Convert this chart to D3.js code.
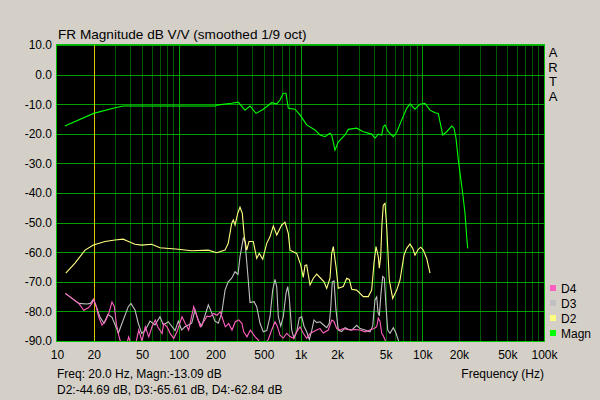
<!DOCTYPE html>
<html><head><meta charset="utf-8">
<script src="https://cdn.jsdelivr.net/npm/d3@7"></script>
<style>
html,body{margin:0;padding:0;background:#d4d0c8;}
svg{display:block;font-family:Arial,"Liberation Sans",sans-serif;font-size:12px;}
</style></head>
<body>
<svg id="c" width="600" height="400"></svg>
<script>
// ---- data ----
const yTicks = [10, 0, -10, -20, -30, -40, -50, -60, -70, -80, -90];
const xTickValues = [10, 20, 50, 100, 200, 500, 1000, 2000, 5000, 10000, 20000, 50000, 100000];
const xTickLabels = ["10", "20", "50", "100", "200", "500", "1k", "2k", "5k", "10k", "20k", "50k", "100k"];
const legendNames = ["D4", "D3", "D2", "Magn"];
const cursorFreq = 20;

const magnFreq = [11.6, 20, 30, 35, 200, 205, 272, 308, 350, 385, 431, 495, 580, 638, 679, 722, 760, 794, 901, 991, 1124, 1316, 1446, 1589, 1747, 1804, 1920, 2044, 2321, 2470, 2894, 3280, 3843, 4091, 4355, 4645, 4787, 4943, 5261, 5784, 6168, 6780, 7453, 7931, 8718, 9583, 10535, 11580, 12730, 13545, 14723, 15880, 17456, 18230, 18933, 19784, 20428, 21485, 22443, 23178, 23620];
const magnDb = [-17.4, -13.1, -11.2, -10.6, -10.6, -10.3, -9.7, -9.3, -12.0, -10.6, -13.1, -11.7, -9.5, -9.9, -8.6, -6.3, -6.3, -11.4, -11.7, -13.6, -17.0, -18.7, -20.4, -21.0, -19.8, -20.4, -25.5, -22.7, -20.4, -18.5, -18.1, -19.3, -20.1, -21.5, -20.1, -20.4, -17.6, -17.0, -19.3, -21.0, -19.5, -15.3, -11.4, -9.9, -11.7, -10.0, -9.7, -12.0, -12.9, -13.1, -20.4, -19.3, -17.4, -18.1, -21.5, -28.9, -33.3, -40.1, -46.9, -54.8, -58.7];

const d2Freq = [11.8, 14.05, 17, 19.9, 24.8, 29.9, 35, 37.4, 43.7, 49.6, 60, 70.1, 99.2, 127.8, 174.9, 205, 240, 255, 272, 280.6, 290, 305, 318.5, 332.7, 345.5, 361.5, 377.6, 409.6, 436.8, 458.8, 489.3, 527.8, 561.6, 597.7, 638, 700.8, 745.8, 794, 820, 930.6, 1003.7, 1054, 1089, 1124, 1197, 1274, 1358, 1465, 1560, 1641, 1747, 1804, 1860, 1957, 2044, 2246, 2396, 2516, 2634, 2894, 3280, 3606, 3843, 4015, 4170, 4355, 4438, 4557, 4670, 4787, 4943, 5105, 5362, 5718, 6168, 6565, 7083, 7453, 7931, 8349, 8718, 9281, 9712, 10200, 10880, 11580];
const d2Db = [-67.1, -63.7, -59.3, -57.6, -56.4, -55.9, -55.6, -56.1, -57.3, -57.6, -57.3, -58.5, -59.0, -59.5, -59.3, -60.2, -59.3, -57.0, -50.3, -49.1, -50.8, -46.9, -44.8, -46.9, -54.8, -59.3, -56.4, -56.4, -62.1, -60.4, -62.4, -57.0, -54.8, -51.1, -54.2, -50.8, -49.9, -53.6, -59.3, -60.4, -64.3, -68.5, -64.5, -64.3, -71.1, -68.8, -67.4, -68.8, -70.0, -72.2, -68.8, -60.4, -58.1, -64.9, -72.2, -71.6, -68.8, -69.2, -72.5, -72.8, -75.0, -75.0, -72.8, -63.7, -58.1, -61.5, -65.4, -61.5, -50.3, -44.1, -43.5, -51.4, -69.4, -75.6, -72.8, -69.4, -61.0, -58.7, -57.2, -58.7, -61.0, -59.0, -58.3, -59.3, -62.1, -67.1];

const d3Freq = [11.7, 15.1, 17.6, 18.8, 19.8, 20.6, 22.6, 24.3, 26.2, 28.3, 30.7, 31.9, 35.0, 38.5, 40.5, 43.7, 46.5, 49.6, 52.8, 58.1, 63.8, 70.1, 74.7, 82.1, 93.2, 99.2, 105.7, 112.5, 127.8, 136.0, 144.7, 154.4, 174.9, 186.5, 198.6, 211.2, 225.3, 240, 255, 272, 290, 306.7, 318.5, 338.9, 350, 368.4, 385, 415, 437, 465, 495, 528, 562, 591, 617.5, 638, 657, 688, 722, 760, 785, 809, 847, 884, 931, 977, 1023, 1069, 1124, 1181, 1236, 1291, 1358, 1446, 1539, 1641, 1724, 1771, 1825, 1884, 1957, 2044, 2180, 2321, 2470, 2634, 2894, 3082, 3387, 3723, 3918, 4091, 4226, 4331, 4438, 4583, 4733, 4879, 5039, 5203, 5434, 5784, 6088, 6359, 6565];
const d3Db = [-73.9, -77.3, -77.5, -77.3, -76.0, -77.3, -82.0, -84.0, -81.0, -82.0, -85.5, -87.4, -82.9, -78.4, -77.3, -79.5, -84.0, -87.4, -86.5, -83.3, -84.6, -81.8, -84.6, -83.5, -86.5, -83.3, -86.3, -85.2, -84.0, -79.5, -83.0, -85.0, -77.8, -80.5, -83.3, -84.0, -80.7, -72.8, -70.0, -68.8, -66.6, -67.5, -61.5, -55.3, -56.4, -67.1, -77.0, -76.7, -78.4, -84.0, -86.9, -86.5, -81.8, -72.8, -69.2, -71.7, -81.8, -85.0, -81.8, -73.9, -71.6, -75.6, -86.3, -89.1, -86.9, -82.3, -81.8, -85.0, -86.9, -89.5, -86.5, -82.9, -83.8, -83.5, -84.5, -85.5, -84.0, -79.0, -70.0, -69.7, -79.5, -86.3, -86.8, -85.5, -86.0, -86.3, -84.7, -85.8, -86.3, -86.9, -85.0, -76.1, -75.1, -80.3, -81.5, -73.9, -68.2, -68.7, -78.3, -86.3, -87.4, -85.5, -87.4, -89.7, -92.0];

const d4Freq = [11.7, 15.1, 16.6, 18.2, 19.4, 20.0, 21.0, 22.0, 23.4, 24.9, 26.6, 28.3, 29.6, 30.7, 32.1, 33.6, 36.2, 38.8, 40.5, 43.7, 46.9, 49.9, 53.1, 56.7, 60.3, 64.2, 67.2, 72.9, 75.2, 80.1, 85.2, 90.9, 96.7, 106.3, 113.2, 120.7, 132.7, 141.2, 150.3, 160.3, 170.6, 181.6, 193.6, 206.2, 219.4, 230.9, 241.2, 257.2, 273.7, 291.4, 310.7, 330.7, 341.5, 363.6, 387.0, 423.0, 450.2, 482.9, 543.8, 580.0, 617.5, 645.0, 679, 722, 770, 820, 873, 931, 991, 1054, 1124, 1197, 1274, 1358, 1446, 1539, 1692, 1804, 1884, 1983, 2110, 2246, 2396, 2550, 2803, 3082, 3387, 3723, 4015, 4226, 4355, 4498, 4645, 4787, 4943, 5232];
const d4Db = [-73.9, -77.3, -79.6, -78.7, -77.3, -75.9, -78.4, -81.8, -84.6, -83.5, -80.7, -76.8, -78.4, -84.1, -88.0, -91.0, -93.0, -88.6, -91.0, -92.0, -86.3, -90.0, -85.2, -88.6, -85.2, -82.9, -85.2, -87.5, -84.1, -85.2, -87.5, -89.1, -86.9, -81.8, -84.1, -86.3, -78.4, -81.8, -85.2, -83.5, -81.6, -81.8, -80.7, -81.3, -80.1, -82.9, -85.2, -84.1, -86.3, -83.5, -82.9, -84.1, -86.9, -88.6, -86.3, -88.5, -89.7, -92.0, -89.5, -86.3, -83.5, -85.0, -88.0, -89.0, -87.4, -88.5, -89.1, -86.9, -85.2, -87.4, -89.1, -87.5, -86.9, -86.3, -85.8, -87.3, -86.3, -82.9, -83.4, -85.8, -86.3, -85.8, -86.1, -86.3, -86.1, -86.3, -86.9, -86.3, -85.8, -85.2, -82.3, -83.4, -87.4, -88.2, -89.6, -92.0];

// ---- drawing ----
const svg = d3.select("#c");
const L = 57, R = 544, T = 45, B = 341;
const x = d3.scaleLog().domain([10, 100000]).range([L, R]);
const y = d3.scaleLinear().domain([-90, 10]).range([B, T]);

const colors = {D4: "#ff60c0", D3: "#c0c0c0", D2: "#ffff80", Magn: "#00ff00"};

svg.append("rect").attr("x", L).attr("y", T).attr("width", R - L).attr("height", B - T).attr("fill", "#000");

// minor vertical grid
const minorTicks = [];
[10, 100, 1000, 10000].forEach(dec => { for (let k = 2; k <= 9; k++) minorTicks.push(dec * k); });
const majorV = [100, 1000, 10000];

svg.append("g").attr("transform", `translate(0,${B})`)
  .call(d3.axisBottom(x).tickValues(minorTicks).tickSize(-(B - T)).tickFormat(""))
  .call(g => g.select(".domain").remove())
  .call(g => g.selectAll("line").attr("stroke", "#005800").attr("shape-rendering", "crispEdges"));

svg.append("g").attr("transform", `translate(0,${B})`)
  .call(d3.axisBottom(x).tickValues(majorV).tickSize(-(B - T)).tickFormat(""))
  .call(g => g.select(".domain").remove())
  .call(g => g.selectAll("line").attr("stroke", "#00a000").attr("shape-rendering", "crispEdges"));

// horizontal grid
svg.append("g").attr("transform", `translate(${L},0)`)
  .call(d3.axisLeft(y).tickValues(yTicks).tickSize(-(R - L)).tickFormat(""))
  .call(g => g.select(".domain").remove())
  .call(g => g.selectAll("line").attr("stroke", "#00a000").attr("shape-rendering", "crispEdges"));

// cursor
svg.append("line").attr("x1", Math.round(x(cursorFreq)) + 0.5).attr("x2", Math.round(x(cursorFreq)) + 0.5)
  .attr("y1", T).attr("y2", B).attr("stroke", "#d8c800").attr("stroke-width", 1);

// clip
svg.append("clipPath").attr("id", "clip").append("rect")
  .attr("x", L).attr("y", T).attr("width", R - L).attr("height", B - T);

const line = d3.line().x(d => x(d[0])).y(d => y(d[1]));
const series = [
  {name: "D3", f: d3Freq, v: d3Db},
  {name: "D4", f: d4Freq, v: d4Db},
  {name: "D2", f: d2Freq, v: d2Db},
  {name: "Magn", f: magnFreq, v: magnDb}
];
const gLines = svg.append("g").attr("clip-path", "url(#clip)");
series.forEach(s => {
  gLines.append("path").datum(s.f.map((f, i) => [f, s.v[i]]))
    .attr("d", line).attr("fill", "none").attr("stroke", colors[s.name]).attr("stroke-width", 1.1);
});

// border
svg.append("rect").attr("x", L - 0.5).attr("y", T - 0.5).attr("width", R - L + 1).attr("height", B - T + 1)
  .attr("fill", "none").attr("stroke", "#00c000").attr("stroke-width", 1).attr("shape-rendering", "crispEdges");

// y axis labels
svg.append("g").attr("transform", `translate(${L - 5},0)`)
  .call(d3.axisLeft(y).tickValues(yTicks).tickSize(0).tickPadding(0).tickFormat(d => d.toFixed(1)))
  .call(g => g.select(".domain").remove())
  .call(g => g.selectAll("text").attr("fill", "#000").attr("font-size", "12px")
    .attr("font-family", "Arial, 'Liberation Sans', sans-serif"));

// x axis labels
svg.append("g").attr("transform", `translate(0,${B + 5})`)
  .call(d3.axisBottom(x).tickValues(xTickValues).tickSize(0).tickPadding(4)
    .tickFormat((d, i) => xTickLabels[i]))
  .call(g => g.select(".domain").remove())
  .call(g => g.selectAll("text").attr("fill", "#000").attr("font-size", "12px")
    .attr("font-family", "Arial, 'Liberation Sans', sans-serif"));

// texts
svg.append("text").attr("x", 58).attr("y", 39).attr("font-size", "13.6px").text("FR Magnitude dB V/V (smoothed 1/9 oct)");
svg.append("text").attr("x", R).attr("y", 378).attr("text-anchor", "end").text("Frequency (Hz)");
svg.append("text").attr("x", 57).attr("y", 378).text("Freq: 20.0 Hz, Magn:-13.09 dB");
svg.append("text").attr("x", 57).attr("y", 394).text("D2:-44.69 dB, D3:-65.61 dB, D4:-62.84 dB");

["A", "R", "T", "A"].forEach((ch, i) => {
  svg.append("text").attr("x", 553).attr("y", 57 + i * 14.5).attr("text-anchor", "middle")
    .attr("font-size", "13px").text(ch);
});

// legend
legendNames.forEach((n, i) => {
  const cy = 288 + i * 15;
  svg.append("rect").attr("x", 550).attr("y", cy - 3).attr("width", 6).attr("height", 6).attr("fill", colors[n]);
  svg.append("text").attr("x", 561).attr("y", cy + 4.5).text(n);
});
</script>
</body></html>
